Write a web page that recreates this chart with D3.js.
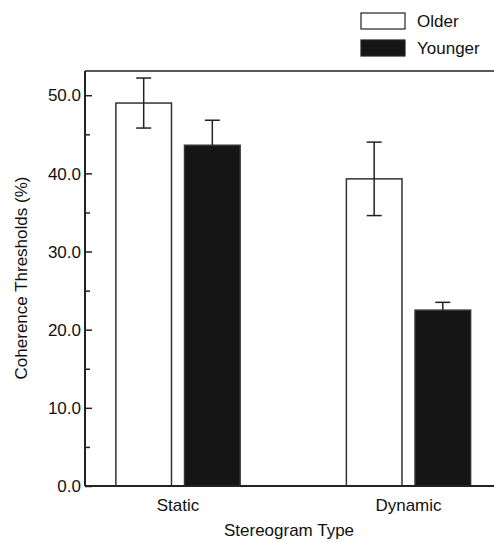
<!DOCTYPE html>
<html>
<head>
<meta charset="utf-8">
<script src="https://cdn.jsdelivr.net/npm/d3@7"></script>
<style>
  body { margin: 0; background: #fff; }
  text { font-family: "Liberation Sans", Arial, sans-serif; fill: #111; }
</style>
</head>
<body>
<div id="chart"></div>
<script>
// data
const categories = ["Static", "Dynamic"];
const seriesNames = ["Older", "Younger"];
const olderMean = [49.0, 39.3];
const olderErr = [3.2, 4.7];
const youngerMean = [43.6, 22.5];
const youngerErr = [3.2, 1.0];
const majorTicks = [0, 10, 20, 30, 40, 50];
const minorTicks = [5, 15, 25, 35, 45];

const W = 494, H = 541;
const plot = { left: 85, top: 71, bottom: 486, right: 494 };
const fs = 17;

const svg = d3.select("#chart").append("svg")
    .attr("width", W)
    .attr("height", H);

const x0 = d3.scaleBand()
    .domain(categories)
    .range([plot.left, 501.5])
    .paddingInner(0.461)
    .paddingOuter(0.134);

const x1 = d3.scaleBand()
    .domain(seriesNames)
    .range([0, x0.bandwidth()])
    .paddingInner(0.19);

const y = d3.scaleLinear()
    .domain([0, 53.1])
    .range([plot.bottom, plot.top]);

const fills = { Older: "#fff", Younger: "#151515" };

let rows = [];
categories.forEach((c, i) => {
    rows.push({ cat: c, s: "Older", v: olderMean[i], e: olderErr[i] });
    rows.push({ cat: c, s: "Younger", v: youngerMean[i], e: youngerErr[i] });
});

function cx(d) { return x0(d.cat) + x1(d.s) + x1.bandwidth() / 2; }

function drawErr(sel) {
    let eb = sel.append("g")
        .attr("stroke", "#222")
        .attr("stroke-width", 1.5);
    eb.append("line")
        .attr("x1", d => cx(d)).attr("x2", d => cx(d))
        .attr("y1", d => y(d.v + d.e)).attr("y2", d => y(d.v - d.e));
    eb.append("line")
        .attr("x1", d => cx(d) - 7.5).attr("x2", d => cx(d) + 7.5)
        .attr("y1", d => y(d.v + d.e)).attr("y2", d => y(d.v + d.e));
    eb.append("line")
        .attr("x1", d => cx(d) - 7.5).attr("x2", d => cx(d) + 7.5)
        .attr("y1", d => y(d.v - d.e)).attr("y2", d => y(d.v - d.e));
}

// error bars of the dark bars sit behind them
svg.selectAll(".errBack")
    .data(rows.filter(d => d.s === "Younger"))
    .enter()
    .append("g")
    .attr("class", "errBack")
    .call(drawErr);

// bars
svg.selectAll(".bar")
    .data(rows)
    .enter()
    .append("rect")
    .attr("class", "bar")
    .attr("x", d => x0(d.cat) + x1(d.s))
    .attr("y", d => y(d.v))
    .attr("width", x1.bandwidth())
    .attr("height", d => y(0) - y(d.v))
    .attr("fill", d => fills[d.s])
    .attr("stroke", "#333")
    .attr("stroke-width", 1.5);

svg.selectAll(".errFront")
    .data(rows.filter(d => d.s === "Older"))
    .enter()
    .append("g")
    .attr("class", "errFront")
    .call(drawErr);

// y axis, ticks pointing inward
svg.append("g")
    .attr("transform", `translate(${plot.left},0)`)
    .call(d3.axisRight(y).tickValues(majorTicks).tickSize(7).tickSizeOuter(0).tickFormat(""))
    .call(g => g.select(".domain").remove())
    .selectAll(".tick line").attr("stroke", "#222").attr("stroke-width", 1.5);

svg.append("g")
    .attr("transform", `translate(${plot.left},0)`)
    .call(d3.axisRight(y).tickValues(minorTicks).tickSize(5).tickSizeOuter(0).tickFormat(""))
    .call(g => g.select(".domain").remove())
    .selectAll(".tick line").attr("stroke", "#222").attr("stroke-width", 1.5);

svg.selectAll(".ylab")
    .data(majorTicks)
    .enter()
    .append("text")
    .attr("class", "ylab")
    .attr("x", plot.left - 4)
    .attr("y", d => y(d))
    .attr("dy", "0.36em")
    .attr("text-anchor", "end")
    .style("font-size", fs + "px")
    .text(d => d3.format(".1f")(d));

// frame: left, bottom, top
svg.append("line")
    .attr("x1", plot.left).attr("x2", plot.left)
    .attr("y1", plot.top).attr("y2", plot.bottom)
    .attr("stroke", "#222").attr("stroke-width", 2);
svg.append("line")
    .attr("x1", plot.left).attr("x2", plot.right)
    .attr("y1", plot.bottom).attr("y2", plot.bottom)
    .attr("stroke", "#222").attr("stroke-width", 2);
svg.append("line")
    .attr("x1", plot.left).attr("x2", plot.right)
    .attr("y1", plot.top).attr("y2", plot.top)
    .attr("stroke", "#222").attr("stroke-width", 1.5);

// x labels
svg.selectAll(".xlab")
    .data(categories)
    .enter()
    .append("text")
    .attr("class", "xlab")
    .attr("x", d => x0(d) + x0.bandwidth() / 2)
    .attr("y", 511)
    .attr("text-anchor", "middle")
    .style("font-size", fs + "px")
    .text(d => d);

svg.append("text")
    .attr("x", 289)
    .attr("y", 536)
    .attr("text-anchor", "middle")
    .style("font-size", fs + "px")
    .text("Stereogram Type");

svg.append("text")
    .attr("transform", "translate(27,278) rotate(-90)")
    .attr("text-anchor", "middle")
    .style("font-size", fs + "px")
    .text("Coherence Thresholds (%)");

// legend
let legend = svg.selectAll(".leg")
    .data(seriesNames)
    .enter()
    .append("g")
    .attr("class", "leg")
    .attr("transform", (d, i) => `translate(361,${13 + i * 27})`);
legend.append("rect")
    .attr("width", 44)
    .attr("height", 16)
    .attr("fill", d => fills[d])
    .attr("stroke", "#222")
    .attr("stroke-width", 1.2);
legend.append("text")
    .attr("x", 56)
    .attr("y", 14)
    .style("font-size", fs + "px")
    .text(d => d);
</script>
</body>
</html>
